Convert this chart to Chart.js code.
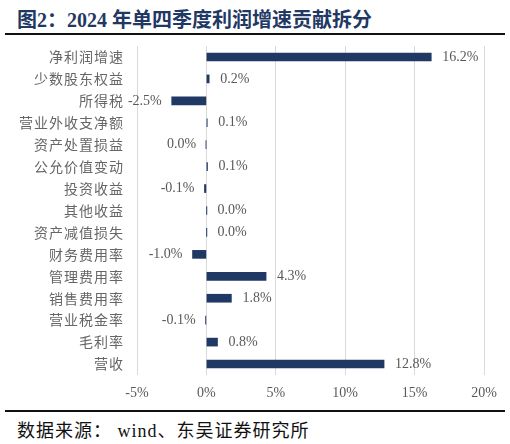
<!DOCTYPE html>
<html lang="zh">
<head>
<meta charset="UTF-8">
<title>2024年单四季度利润增速贡献拆分</title>
<script src="https://cdn.jsdelivr.net/npm/chart.js"></script>
<style>
    * { margin: 0; padding: 0; box-sizing: border-box; }
    body { width: 510px; height: 444px; background: #fff; position: relative; overflow: hidden; }
    #title {
        position: absolute; left: 17px; top: 4px;
        font-family: 'Liberation Serif', 'Noto Sans CJK SC', serif;
        font-weight: bold; font-size: 20px; color: #1f3864;
    }
    .rule { position: absolute; left: 5px; width: 500px; height: 2px; background: #111; }
    #wrap { position: absolute; left: 0; top: 40px; width: 510px; height: 365px; }
    #source {
        position: absolute; left: 17px; top: 416px;
        font-family: 'Liberation Serif', 'Noto Sans CJK SC', serif;
        font-size: 18px; letter-spacing: 1px; color: #111;
    }
</style>
</head>
<body>
<div id="title">图2：2024 年单四季度利润增速贡献拆分</div>
<div class="rule" style="top:33px"></div>
<div id="wrap"><canvas id="chart"></canvas></div>
<div class="rule" style="top:410px"></div>
<div id="source">数据来源： wind、东吴证券研究所</div>

<script>
    // categories top to bottom
    const categories = ['净利润增速', '少数股东权益', '所得税', '营业外收支净额', '资产处置损益',
        '公允价值变动', '投资收益', '其他收益', '资产减值损失', '财务费用率',
        '管理费用率', '销售费用率', '营业税金率', '毛利率', '营收'];
    // contribution, %
    const contribution = [16.2, 0.2, -2.5, 0.06, -0.02, 0.08, -0.14, 0.01, 0.01, -1.0,
        4.3, 1.8, -0.06, 0.8, 12.8];
    const xTicks = [-5, 0, 5, 10, 15, 20];

    function fmt(v) {
        let s = v.toFixed(1);
        if (s === '-0.0') s = '0.0';
        return s + '%';
    }

    // category names drawn by hand so they can get a little letter spacing
    const categoryLabels = {
        id: 'categoryLabels',
        afterDraw(chart) {
            const ctx = chart.ctx;
            const y = chart.scales.y;
            ctx.save();
            ctx.font = '14px "Noto Sans CJK SC"';
            ctx.letterSpacing = '1px';
            ctx.fillStyle = '#666666';
            ctx.textAlign = 'right';
            ctx.textBaseline = 'middle';
            categories.forEach((c, i) => {
                ctx.fillText(c, chart.chartArea.left - 13, y.getPixelForTick(i));
            });
            ctx.restore();
        }
    };

    const valueLabels = {
        id: 'valueLabels',
        afterDatasetsDraw(chart) {
            const ctx = chart.ctx;
            const meta = chart.getDatasetMeta(0);
            ctx.save();
            ctx.font = '14px "Liberation Serif"';
            ctx.fillStyle = '#595959';
            ctx.textBaseline = 'middle';
            meta.data.forEach((bar, i) => {
                const v = contribution[i];
                if (v >= 0) {
                    ctx.textAlign = 'left';
                    ctx.fillText(fmt(v), bar.x + 11, bar.y);
                } else {
                    ctx.textAlign = 'right';
                    ctx.fillText(fmt(v), bar.x - 10, bar.y);
                }
            });
            ctx.restore();
        }
    };

    new Chart(document.getElementById('chart'), {
        type: 'bar',
        data: {
            labels: categories,
            datasets: [{
                data: contribution,
                backgroundColor: '#1f3864',
                barThickness: 8
            }]
        },
        options: {
            indexAxis: 'y',
            responsive: true,
            maintainAspectRatio: false,
            animation: false,
            layout: { padding: { top: 6, right: 26, left: 0, bottom: 0 } },
            plugins: { legend: { display: false }, tooltip: { enabled: false } },
            scales: {
                x: {
                    min: -5, max: 20,
                    afterBuildTicks: s => { s.ticks = xTicks.map(v => ({ value: v })); },
                    afterFit: s => { s.height = 30; },
                    grid: { color: '#d9d9d9', drawTicks: false },
                    border: { display: false },
                    ticks: {
                        padding: 10,
                        color: '#595959',
                        font: { family: 'Liberation Serif', size: 14 },
                        callback: v => v + '%'
                    }
                },
                y: {
                    afterFit: s => { s.width = 137; },
                    grid: { display: false, drawTicks: false },
                    border: { display: false },
                    ticks: { display: false }
                }
            }
        },
        plugins: [categoryLabels, valueLabels]
    });
</script>
</body>
</html>
